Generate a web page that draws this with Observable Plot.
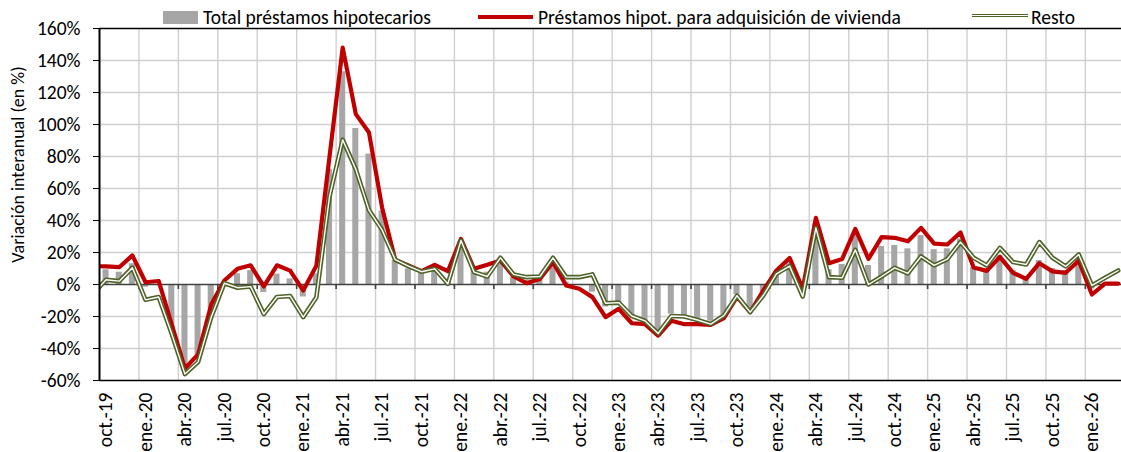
<!DOCTYPE html>
<html>
<head>
<meta charset="utf-8">
<script src="https://cdn.jsdelivr.net/npm/d3@7"></script>
<script src="https://cdn.jsdelivr.net/npm/@observablehq/plot@0.6"></script>
<style>
  body { margin: 0; background: #fff; font-family: Calibri, Carlito, Lato, sans-serif; }
  #legend { position: relative; height: 20px; width: 1121px; font-size: 19.5px; color: #000; }
  #legend .sw { position: absolute; box-sizing: content-box; }
  #legend .tx { position: absolute; top: 7px; line-height: 20px; white-space: nowrap; }
  #chart svg { overflow: visible; }
</style>
</head>
<body>
<div id="legend"></div>
<div id="chart"></div>
<script>
// Months (first one, sep.-19, lies just left of the visible frame and is clipped)
const months = [
  "sep.-19","oct.-19","nov.-19","dic.-19",
  "ene.-20","feb.-20","mar.-20","abr.-20","may.-20","jun.-20","jul.-20","ago.-20","sep.-20","oct.-20","nov.-20","dic.-20",
  "ene.-21","feb.-21","mar.-21","abr.-21","may.-21","jun.-21","jul.-21","ago.-21","sep.-21","oct.-21","nov.-21","dic.-21",
  "ene.-22","feb.-22","mar.-22","abr.-22","may.-22","jun.-22","jul.-22","ago.-22","sep.-22","oct.-22","nov.-22","dic.-22",
  "ene.-23","feb.-23","mar.-23","abr.-23","may.-23","jun.-23","jul.-23","ago.-23","sep.-23","oct.-23","nov.-23","dic.-23",
  "ene.-24","feb.-24","mar.-24","abr.-24","may.-24","jun.-24","jul.-24","ago.-24","sep.-24","oct.-24","nov.-24","dic.-24",
  "ene.-25","feb.-25","mar.-25","abr.-25","may.-25","jun.-25","jul.-25","ago.-25","sep.-25","oct.-25","nov.-25","dic.-25",
  "ene.-26","feb.-26","mar.-26"
];

// Total préstamos hipotecarios (bars, %)
const totalHip = [
  null, 9.2, 7.7, 13,
  -1.7, -0.8, -28, -52.5, -44, -16, 1.5, 6.7, 8.7, -5, 6.5, 3.5,
  -7.8, 6.7, 72, 133, 97.5, 81.5, 46, 15, 9.8, 7, 9, 1.5,
  26.5, 9.8, 7.7, 15.4, 4.6, 2.5, 3.5, 15, 1.5, -0.6, -4.8, -14,
  -12, -20, -23, -29.5, -18.5, -20, -22, -23, -19, -6.4, -16, -4.8,
  8, 15, -3.75, 38, 9.2, 12.5, 30.6, 11.9, 23.8, 24.4, 22.3, 30.6,
  21.8, 22.3, 28.5, 10.5, 9, 18, 8.75, 5, 15, 10, 8.75, 16.5,
  -2.8, 1, 1
];

// Préstamos hipot. para adquisición de vivienda (red line, %)
const adqVivienda = [
  11.5, 11.3, 10.8, 18.2,
  1.4, 2.2, -25, -52.5, -43.7, -12.5, 2.5, 9.8, 12, -1.2, 12, 8.7,
  -3.8, 11.8, 80, 148, 106.5, 95, 48, 15.4, 11.9, 8.3, 12.3, 8.3,
  28.5, 9.8, 12.3, 15, 5, 0.8, 3.5, 14, -0.6, -2.7, -7.9, -20.4,
  -15.2, -24.2, -24.8, -31.9, -22.7, -24.8, -24.8, -25.3, -21, -7.7, -17.3, -3.75,
  8.75, 16.6, -2.7, 41.7, 13.3, 16, 34.8, 16, 29.6, 29.2, 27, 35.4,
  25.6, 25, 32.5, 10.6, 8.5, 17.3, 7.3, 3.5, 13.3, 8.2, 7.3, 14.8,
  -6.25, 0.6, 0.6
];

// Resto (double green line, %)
const resto = [
  -6, 3, 2.1, 10.5,
  -9.6, -7.8, -31, -56, -48.5, -20.4, 0.8, -2, -1.3, -18.5, -7.8, -7.2,
  -20.4, -8, 55, 90.5, 72, 46.5, 34, 15.5, 11.5, 8, 9.8, 0.4,
  27.5, 7.7, 5, 16.7, 6.3, 4.6, 5, 16.7, 4.6, 4.6, 6.3, -11.7,
  -11.3, -19.7, -22.7, -30.6, -19.7, -20, -22.2, -24.8, -19.4, -7, -17.3, -6.9,
  6.7, 11.5, -7.5, 35.4, 4.6, 4.2, 21.7, 0, 5, 10.4, 7, 17.5,
  12, 15.8, 26.5, 16.7, 11.9, 22.9, 14, 12.5, 26.5, 16.7, 11.3, 18.75,
  -0.6, 4.2, 8.75
];

const seriesNames = ["Total préstamos hipotecarios", "Préstamos hipot. para adquisición de vivienda", "Resto"];
const yTicks = [-60, -40, -20, 0, 20, 40, 60, 80, 100, 120, 140, 160];
const quarterPrefixes = ["oct.", "ene.", "abr.", "jul."];
const yTitle = "Variación interanual (en %)";

const C_BAR = "#A6A6A6", C_RED = "#C00000", C_GREEN = "#4F6228", C_GRID = "#D0D0D0";

// table
const rows = months.map((m, k) => ({i: k - 1, label: m, total: totalHip[k], red: adqVivienda[k], green: resto[k]}));
const quarterRows = rows.filter(d => d.i >= 0 && quarterPrefixes.some(p => d.label.startsWith(p)));
const gridX = quarterRows.filter(d => d.i > 0).map(d => d.i - 0.5);

// legend (HTML, above the SVG)
const legend = document.getElementById("legend");
legend.innerHTML = `
  <div class="sw" style="left:163px;top:11px;width:35px;height:13px;background:${C_BAR}"></div>
  <span class="tx" style="left:203px">${seriesNames[0]}</span>
  <div class="sw" style="left:478px;top:15px;width:55px;height:4px;background:${C_RED}"></div>
  <span class="tx" style="left:538px">${seriesNames[1]}</span>
  <div class="sw" style="left:972px;top:14px;width:56px;height:1.4px;border-top:1.8px solid ${C_GREEN};border-bottom:1.8px solid ${C_GREEN};background:#fff"></div>
  <span class="tx" style="left:1031px">${seriesNames[2]}</span>
`;

const chart = Plot.plot({
  width: 1121,
  height: 432,
  marginTop: 8,
  marginBottom: 72,
  marginLeft: 99,
  marginRight: 0,
  style: {fontFamily: "Calibri, Carlito, Lato, sans-serif", fontSize: "19.5px", color: "#000", background: "#fff", overflow: "visible"},
  x: {type: "linear", domain: [-0.5, 77.25], axis: null},
  y: {domain: [-60, 160], label: null},
  marks: [
    Plot.ruleY(yTicks.filter(v => v !== 0 && v !== -60 && v !== 160), {stroke: C_GRID, strokeWidth: 1.4}),
    Plot.ruleX(gridX, {stroke: C_GRID, strokeWidth: 1.4}),
    Plot.rect(rows.filter(d => d.total != null && d.i >= 0), {x1: d => d.i - 0.23, x2: d => d.i + 0.23, y1: 0, y2: "total", fill: C_BAR}),
    Plot.ruleY([0], {stroke: "#404040", strokeWidth: 1.6}),
    Plot.ruleX(gridX, {y1: 0, y2: 0, insetBottom: -5, stroke: "#404040", strokeWidth: 1.6}),
    Plot.line(rows, {x: "i", y: "red", stroke: C_RED, strokeWidth: 4.2, clip: true}),
    Plot.line(rows, {x: "i", y: "green", stroke: C_GREEN, strokeWidth: 4.6, clip: true}),
    Plot.line(rows, {x: "i", y: "green", stroke: "#fff", strokeWidth: 1.4, clip: true}),
    Plot.ruleY([-60, 160], {stroke: "#000", strokeWidth: 1.5}),
    Plot.ruleX([-0.5], {stroke: "#000", strokeWidth: 2}),
    Plot.axisY({ticks: yTicks, tickFormat: d => d + "%", tickSize: 6, tickPadding: 13, label: null}),
    Plot.text(quarterRows, {x: "i", text: "label", frameAnchor: "bottom", rotate: -90, textAnchor: "end", lineAnchor: "middle", dy: 12}),
    Plot.text([yTitle], {frameAnchor: "left", rotate: -90, textAnchor: "middle", dx: -81, dy: -40, fontSize: 18})
  ]
});
document.getElementById("chart").appendChild(chart);
</script>
</body>
</html>
